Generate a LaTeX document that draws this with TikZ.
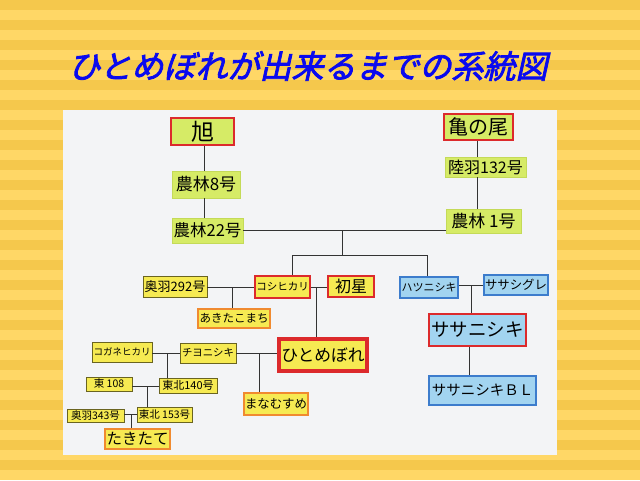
\documentclass[tikz,border=0pt]{standalone}
\usepackage{fontspec}
\newfontfamily\jp{Noto Sans CJK JP}
\newfontfamily\jpti[FakeSlant=0.22,FakeBold=2.5]{Noto Sans CJK JP}
\definecolor{bgdark}{HTML}{F5C84C}
\definecolor{bglight}{HTML}{FFD766}
\definecolor{paper}{HTML}{F3F4F6}
\definecolor{leaf}{HTML}{D6EB66}
\definecolor{leafd}{HTML}{C4DA58}
\definecolor{yel}{HTML}{F6EA52}
\definecolor{ydark}{HTML}{6A6420}
\definecolor{redb}{HTML}{DC2A2C}
\definecolor{orng}{HTML}{F08A30}
\definecolor{sky}{HTML}{A2D4F0}
\definecolor{skyd}{HTML}{3C7CCC}
\definecolor{ttl}{HTML}{0A0AEE}
\tikzset{
  fs/.style={font=\jp\fontsize{#1pt}{#1pt}\selectfont},
  nb/.style={inner sep=0pt, text=black},
  gbox/.style={nb, fill=leaf, draw=leafd, line width=0.6pt},
  gred/.style={nb, fill=leaf, draw=redb, line width=2.4pt},
  ybox/.style={nb, fill=yel, draw=ydark, line width=0.7pt},
  yred/.style={nb, fill=yel, draw=redb, line width=2.4pt},
  yor/.style={nb, fill=yel, draw=orng, line width=2pt},
  bbox/.style={nb, fill=sky, draw=skyd, line width=1.4pt},
  bred/.style={nb, fill=sky, draw=redb, line width=2.4pt},
  conn/.style={draw=black!80, line width=0.8pt},
}
\begin{document}
\begin{tikzpicture}[x=1pt,y=-1pt]
\useasboundingbox (0,0) rectangle (640,480);
% striped background
\fill[bgdark] (0,0) rectangle (640,480);
\foreach \i in {0,...,23} { \fill[bglight] (0,\i*20+10) rectangle (640,\i*20+20); }
% title
\node[text=ttl, inner sep=0pt, font=\jpti\fontsize{32pt}{32pt}\selectfont] (title) at (308,66) {ひとめぼれが出来るまでの系統図};
% paper
\fill[paper] (63,110) rectangle (557,455);

% Asahi line
\node[gred, fs=23, minimum width=63pt, minimum height=27pt] (asahi) at (202.5,131.5) {旭};
\node[gbox, fs=17, minimum width=68pt, minimum height=27pt] (n8) at (206,184.5) {農林8号};
\node[gbox, fs=16.5, minimum width=71pt, minimum height=25pt] (n22) at (207.5,230.5) {農林22号};
% Kamenoo line
\node[gred, fs=20, minimum width=69pt, minimum height=26pt] (kame) at (478.5,127) {亀の尾};
\node[gbox, fs=16, minimum width=81pt, minimum height=20pt] (rikuu) at (485.5,167) {陸羽132号};
\node[gbox, fs=17, minimum width=75pt, minimum height=24pt] (n1) at (483.5,221) {農林 1号};

% middle row
\node[ybox, fs=13, minimum width=64pt, minimum height=21pt] (ou292) at (175,286.5) {奥羽292号};
\node[yred, fs=10.5, minimum width=55pt, minimum height=22pt] (koshi) at (282.5,287) {コシヒカリ};
\node[yred, fs=16, minimum width=46pt, minimum height=21pt] (hatsu) at (351,286.5) {初星};
\node[yor, fs=11.5, minimum width=72pt, minimum height=19pt] (akita) at (234,318.5) {あきたこまち};
\node[nb, fill=yel, draw=redb, line width=4pt, fs=16.8, minimum width=88pt, minimum height=32pt] (hito) at (323,355) {ひとめぼれ};

\node[ybox, fs=9.5, minimum width=60pt, minimum height=20pt] (kogane) at (122,352) {コガネヒカリ};
\node[ybox, fs=10.4, minimum width=56pt, minimum height=20pt] (chiyo) at (208,353) {チヨニシキ};
\node[yor, fs=12.4, minimum width=64pt, minimum height=22pt] (mana) at (276,404) {まなむすめ};
\node[ybox, fs=10.5, minimum width=46pt, minimum height=14pt] (azuma) at (109,384) {東 108};
\node[ybox, fs=11, minimum width=58pt, minimum height=15pt] (t140) at (188,385.5) {東北140号};
\node[ybox, fs=10.5, minimum width=57pt, minimum height=13pt] (ou343) at (95.5,415.5) {奥羽343号};
\node[ybox, fs=10.5, minimum width=55pt, minimum height=15pt] (t153) at (164.5,414.5) {東北 153号};
\node[yor, fs=15.5, minimum width=65pt, minimum height=20pt] (taki) at (137.5,439) {たきたて};

% blue side
\node[bbox, fs=11, minimum width=58pt, minimum height=21pt] (hatsuni) at (429,287.5) {ハツニシキ};
\node[bbox, fs=12.4, minimum width=64pt, minimum height=20pt] (sasag) at (516,285) {ササシグレ};
\node[bred, fs=18.5, minimum width=97pt, minimum height=32pt] (sasani) at (477.5,330) {ササニシキ};
\node[bbox, fs=14.5, minimum width=107pt, minimum height=29pt] (bl) at (482.5,390.5) {ササニシキＢＬ};

% connector junctions
\coordinate (ax) at (204,0);
\coordinate (kx) at (477,0);
\coordinate (m) at (342,230);
\coordinate (mb) at (342,255);
\coordinate (kl) at (292,255);
\coordinate (hr) at (427,255);
\coordinate (j1) at (232,287);
\coordinate (j2) at (316,287);
\coordinate (j3) at (167,353);
\coordinate (j4) at (259,353);
\coordinate (j5) at (147,386);
\coordinate (j6) at (131,414);
\coordinate (j7) at (471,285);
\coordinate (sx) at (469,0);

% connectors
\draw[conn] (ax |- asahi.south) -- (ax |- n8.north);
\draw[conn] (ax |- n8.south) -- (ax |- n22.north);
\draw[conn] (kx |- kame.south) -- (kx |- rikuu.north);
\draw[conn] (kx |- rikuu.south) -- (kx |- n1.north);
\draw[conn] (n22.east |- m) -- (n1.west |- m);
\draw[conn] (m) -- (mb);
\draw[conn] (kl) -- (hr);
\draw[conn] (kl) -- (kl |- koshi.north);
\draw[conn] (hr) -- (hr |- hatsuni.north);
\draw[conn] (ou292.east |- j1) -- (koshi.west |- j1);
\draw[conn] (j1) -- (j1 |- akita.north);
\draw[conn] (koshi.east |- j2) -- (hatsu.west |- j2);
\draw[conn] (j2) -- (j2 |- hito.north);
\draw[conn] (kogane.east |- j3) -- (chiyo.west |- j3);
\draw[conn] (j3) -- (j3 |- t140.north);
\draw[conn] (chiyo.east |- j4) -- (hito.west |- j4);
\draw[conn] (j4) -- (j4 |- mana.north);
\draw[conn] (azuma.east |- j5) -- (t140.west |- j5);
\draw[conn] (j5) -- (j5 |- t153.north);
\draw[conn] (ou343.east |- j6) -- (t153.west |- j6);
\draw[conn] (j6) -- (j6 |- taki.north);
\draw[conn] (hatsuni.east |- j7) -- (sasag.west |- j7);
\draw[conn] (j7) -- (j7 |- sasani.north);
\draw[conn] (sx |- sasani.south) -- (sx |- bl.north);
\end{tikzpicture}
\end{document}
